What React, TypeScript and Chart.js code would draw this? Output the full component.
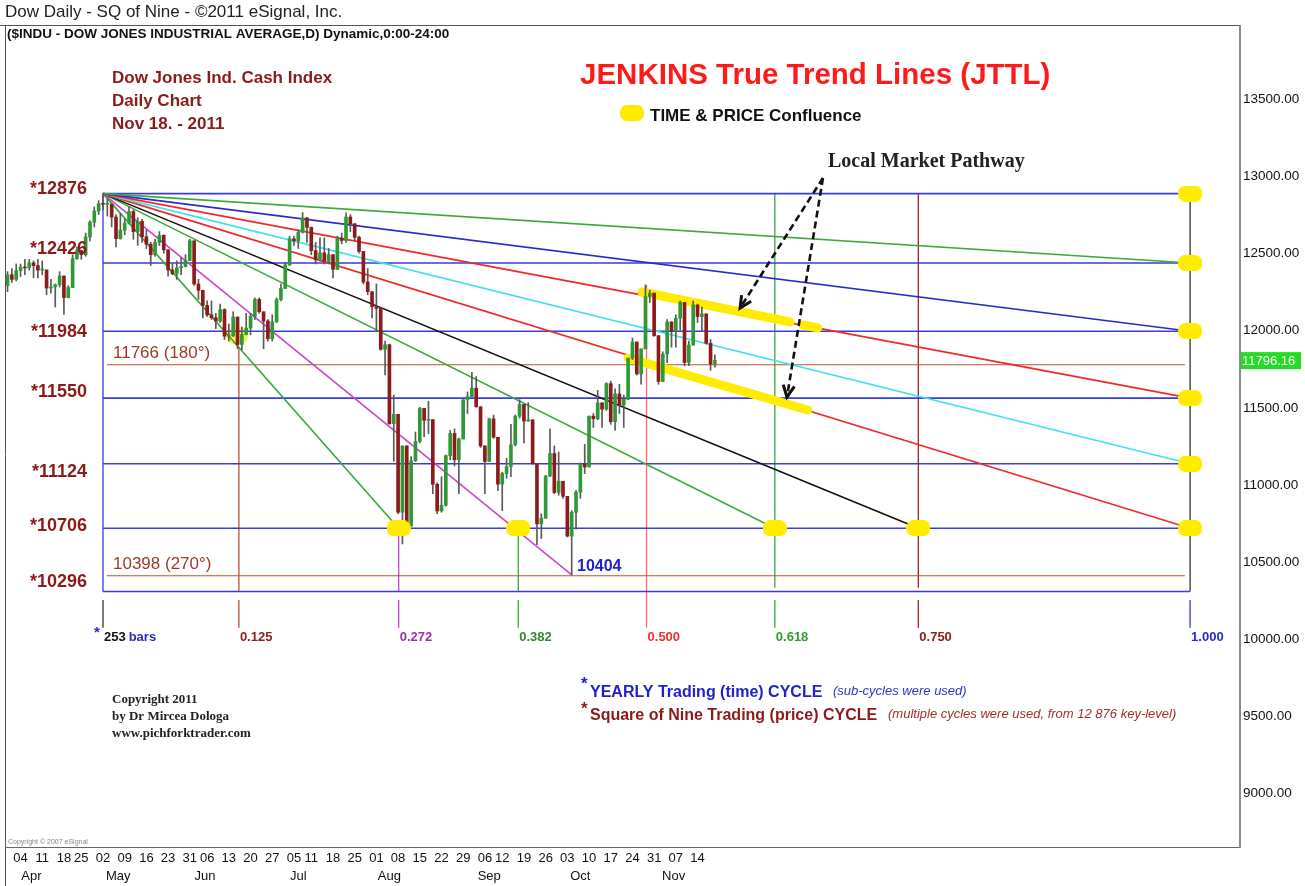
import React, { useEffect, useRef } from "react";
import { Chart, registerables } from "chart.js";

Chart.register(...registerables);

const FONT = "'Liberation Sans', Arial, Helvetica, sans-serif";
const SERIF = "'Liberation Serif', 'Times New Roman', serif";
Chart.defaults.font.family = FONT;

// ---------- price data: bar 0 = 02 May 2011, first bar = 30 Mar 2011 ----------
const FIRST_BAR = -22;
const opens = [
  12280, 12350, 12320, 12377, 12400, 12394, 12427, 12409, 12380, 12381, 12264, 12271, 12285, 12342, 12202, 12267, 12454, 12506, 12480, 12595, 12691, 12763,
  12811, 12807, 12808, 12724, 12584, 12639, 12685, 12760, 12630, 12696, 12596, 12548, 12480, 12560, 12605, 12512, 12381, 12356, 12395, 12403, 12442,
  12570, 12290, 12249, 12151, 12090, 12071, 12049, 12124, 11952, 11953, 12076, 11897, 11962, 12004, 12080, 12190, 12110, 12050, 11935, 12044, 12189, 12261,
  12414, 12583, 12570, 12626, 12719, 12657, 12506, 12447, 12492, 12437, 12480, 12385, 12587, 12572, 12724, 12681, 12593, 12501, 12303, 12240,
  12143, 12132, 11867, 11896, 11384, 11445, 10810, 11240, 10720, 11143, 11269, 11483, 11406, 11410, 10991, 10818, 10855, 11177, 11321, 11150, 11285, 11539, 11560,
  11614, 11494, 11240, 11139, 11415, 11296, 10992, 11061, 11106, 11247, 11433, 11509, 11401, 11409, 11125, 10734, 10771, 11044, 11191, 10938, 11011,
  10913, 10655, 10809, 10940, 11123, 11103, 11433, 11416, 11519, 11478, 11644, 11397, 11577, 11505, 11542, 11809, 11914, 11707, 11869, 12209, 12231,
  11955, 11658, 11836, 12044, 11983, 12068, 12170, 11781, 11894, 12154, 12079, 12096, 11906, 11771,
];
const highs = [
  12370, 12390, 12420, 12419, 12450, 12450, 12440, 12450, 12440, 12381, 12320, 12290, 12370, 12342, 12280, 12480, 12530, 12510, 12620, 12700, 12790, 12830,
  12876, 12840, 12810, 12740, 12750, 12710, 12790, 12770, 12720, 12710, 12640, 12560, 12580, 12630, 12610, 12512, 12420, 12440, 12460, 12480, 12580,
  12570, 12320, 12250, 12180, 12180, 12100, 12160, 12130, 12030, 12110, 12076, 12010, 12100, 12100, 12200, 12200, 12110, 12060, 12090, 12200, 12290, 12430,
  12600, 12600, 12640, 12753, 12720, 12660, 12560, 12590, 12590, 12520, 12480, 12600, 12620, 12751, 12740, 12681, 12600, 12501, 12390, 12240,
  12290, 12140, 11920, 11900, 11570, 11445, 11240, 11240, 11170, 11330, 11490, 11483, 11530, 11410, 11000, 11040, 11180, 11340, 11350, 11290, 11540, 11590, 11717,
  11690, 11494, 11240, 11420, 11440, 11296, 11070, 11160, 11380, 11440, 11540, 11509, 11520, 11410, 11125, 10800, 11050, 11350, 11240, 11200, 11011,
  10913, 10820, 10950, 11130, 11250, 11433, 11450, 11600, 11519, 11650, 11660, 11610, 11640, 11570, 11810, 11940, 11914, 11870, 12284, 12250,
  12231, 11955, 11850, 12060, 12044, 12090, 12180, 12170, 11920, 12180, 12160, 12140, 12096, 11930, 11830,
];
const lows = [
  12240, 12300, 12310, 12338, 12350, 12380, 12330, 12330, 12350, 12220, 12230, 12140, 12270, 12093, 12200, 12267, 12450, 12450, 12470, 12570, 12660, 12740,
  12770, 12730, 12660, 12530, 12580, 12610, 12680, 12580, 12540, 12560, 12520, 12410, 12470, 12540, 12490, 12340, 12350, 12320, 12350, 12400, 12440,
  12280, 12190, 12070, 12080, 12060, 12000, 12040, 11930, 11920, 11950, 11870, 11862, 11960, 11960, 12060, 12100, 11870, 11920, 11920, 12040, 12180, 12260,
  12410, 12540, 12520, 12620, 12560, 12480, 12420, 12440, 12420, 12420, 12330, 12385, 12550, 12560, 12630, 12570, 12490, 12290, 12220, 12070,
  11980, 11860, 11700, 11380, 11140, 10800, 10604, 10710, 10720, 11140, 11260, 11300, 11320, 10930, 10800, 10810, 10850, 11150, 11110, 10930, 11285, 11450, 11560,
  11490, 11230, 10930, 11139, 11290, 10950, 10820, 11030, 11040, 11240, 11420, 11260, 11400, 11120, 10600, 10640, 10770, 11040, 10930, 10920, 10900,
  10650, 10404, 10700, 10900, 11060, 11103, 11360, 11410, 11360, 11470, 11380, 11340, 11450, 11360, 11540, 11800, 11700, 11640, 11869, 12170,
  11950, 11640, 11658, 11780, 11880, 11880, 11990, 11760, 11760, 11894, 12040, 11980, 11900, 11730, 11750,
];
const closes = [
  12350, 12320, 12377, 12400, 12394, 12427, 12409, 12380, 12381, 12264, 12271, 12285, 12342, 12202, 12267, 12454, 12506, 12480, 12595, 12691, 12763, 12811,
  12807, 12808, 12724, 12584, 12639, 12685, 12760, 12630, 12696, 12596, 12548, 12480, 12560, 12605, 12512, 12381, 12356, 12395, 12403, 12442, 12570,
  12290, 12249, 12151, 12090, 12071, 12049, 12124, 11952, 11953, 12076, 11897, 11962, 12004, 12080, 12190, 12110, 12050, 11935, 12044, 12189, 12261, 12414,
  12583, 12570, 12626, 12719, 12657, 12506, 12447, 12492, 12437, 12480, 12385, 12587, 12572, 12724, 12681, 12593, 12501, 12303, 12240, 12143,
  12132, 11867, 11896, 11384, 11445, 10810, 11240, 10720, 11143, 11269, 11483, 11406, 11410, 10991, 10818, 10855, 11177, 11321, 11150, 11285, 11539, 11560, 11614,
  11494, 11240, 11139, 11415, 11296, 10992, 11061, 11106, 11247, 11433, 11509, 11401, 11409, 11125, 10734, 10771, 11044, 11191, 10938, 11011, 10913,
  10655, 10809, 10940, 11123, 11103, 11433, 11416, 11519, 11478, 11644, 11397, 11577, 11505, 11542, 11809, 11914, 11707, 11869, 12209, 12231,
  11955, 11658, 11836, 12044, 11983, 12068, 12170, 11781, 11894, 12154, 12079, 12096, 11906, 11771, 11796,
];
const LAST_CLOSE = 11796.16;

// ---------- date axis ----------
const weekBars = [-19, -14, -9, -5, 0, 5, 10, 15, 20, 24, 29, 34, 39, 44, 48, 53, 58, 63, 68, 73, 78, 83, 88, 92, 97, 102, 107, 112, 117, 122, 127, 132, 137];
const weekLabels = ["04", "11", "18", "25", "02", "09", "16", "23", "31", "06", "13", "20", "27", "05", "11", "18", "25", "01", "08", "15", "22", "29", "06", "12", "19", "26", "03", "10", "17", "24", "31", "07", "14"];
const monthBars = [-16.5, 3.5, 23.5, 45, 66, 89, 110, 131.5];
const monthLabels = ["Apr", "May", "Jun", "Jul", "Aug", "Sep", "Oct", "Nov"];

// ---------- price axis ----------
const priceTicks = [9000, 9500, 10000, 10500, 11000, 11500, 12000, 12500, 13000, 13500];
const Y_MIN = 8639;
const Y_MAX = 13963;
const X_MIN = -22.35;
const X_MAX = 262;

// ---------- Square of Nine levels ----------
const sq9Levels = [12876, 12426, 11984, 11550, 11124, 10706, 10296];
const sq9Labels = ["*12876", "*12426", "*11984", "*11550", "*11124", "*10706", "*10296"];
const angleLevels = [11766, 10398];
const angleLabels = ["11766 (180°)", "10398 (270°)"];

// ---------- yearly time cycle ----------
const CYCLE_BARS = 250.5;
const cycleFractions = [0, 0.125, 0.272, 0.382, 0.5, 0.618, 0.75, 1];
const cycleLabels = ["253", "0.125", "0.272", "0.382", "0.500", "0.618", "0.750", "1.000"];
const cycleTops = [12876, 11880, 10706, 10706, 12284, 12876, 12876, 12876];
const cycleBottoms = [10296, 10296, 10296, 10296, 10060, 10320, 10320, 10296];
const cycleColors = ["#3a3adf", "#b8552e", "#cc44cc", "#3aaa3a", "#ff6a6a", "#3aaa3a", "#a02020", "#333333"];
const cycleTickColors = ["#333333", "#b8552e", "#cc44cc", "#3aaa3a", "", "#3aaa3a", "#a02020", "#3a3adf"];
const cycleLabelColors = ["#111111", "#8b2020", "#9932a8", "#2e8b2e", "#ee3030", "#2e9e2e", "#8b2020", "#2a2acc"];

// ---------- JTTL fan from the 12876 pivot ----------
const PIVOT_BAR = 0;
const PIVOT_PRICE = 12876;
const fanEndBars = [250.5, 250.5, 250.5, 250.5, 250.5, 187.9, 154.8, 108, 68.1];
const fanEndPrices = [12426, 11984, 11550, 11124, 10706, 10706, 10706, 10404, 10706];
const fanColors = ["#3aaa3a", "#2a2acc", "#ee2a2a", "#44e0ee", "#ee2a2a", "#111111", "#3aaa3a", "#cc44cc", "#3aaa3a"];

// ---------- time & price confluences ----------
const confluenceBars = [250.5, 250.5, 250.5, 250.5, 250.5, 250.5, 187.9, 154.8, 68.1, 95.7];
const confluencePrices = [12876, 12426, 11984, 11550, 11124, 10706, 10706, 10706, 10706, 10706];
const juneLowBar = [30.9];
const juneLowPrice = [11959];

// ---------- local market pathway ----------
const pathUpperBars = [124.2, 158.3];
const pathUpperPrices = [12238, 12044];
const pathUpper2Bars = [161.3, 164.7];
const pathUpper2Prices = [12024, 12005];
const pathLowerBars = [121.0, 162.4];
const pathLowerPrices = [11810, 11473];
const arrowFromBar = 165.9;
const arrowFromPrice = 12977;
const arrowToBars = [146.8, 157.6];
const arrowToPrices = [12134, 11557];

function blob(w: number, h: number, color: string) {
  const c = document.createElement("canvas");
  c.width = w;
  c.height = h;
  const g = c.getContext("2d") as CanvasRenderingContext2D;
  g.fillStyle = color;
  g.beginPath();
  (g as any).roundRect(0, 0, w, h, Math.min(h / 2, 7));
  g.fill();
  return c;
}

export default function App() {
  const ref = useRef<HTMLCanvasElement>(null);

  useEffect(() => {
    document.body.style.margin = "0";
    const canvas = ref.current as HTMLCanvasElement;
    const yellowBlob = blob(24, 16, "#ffec00");
    const softBlob = blob(22, 17, "rgba(255,236,0,0.65)");

    const ld = (pts: any[], color: string, width: number, order: number, extra: any = {}) => ({
      type: "line",
      data: pts,
      borderColor: color,
      borderWidth: width,
      pointRadius: 0,
      pointHoverRadius: 0,
      fill: false,
      tension: 0,
      order,
      xAxisID: "x",
      yAxisID: "y",
      ...extra,
    });

    const datasets: any[] = [];
    datasets.push(
      ld(juneLowBar.map((b, i) => ({ x: b, y: juneLowPrice[i] })), "rgba(0,0,0,0)", 0, 100, {
        showLine: false,
        pointStyle: softBlob,
        pointRadius: 10,
      })
    );
    sq9Levels.forEach((v) => datasets.push(ld([{ x: PIVOT_BAR, y: v }, { x: CYCLE_BARS, y: v }], "#3a3adf", 1.6, 90)));
    angleLevels.forEach((v) => datasets.push(ld([{ x: 0.9, y: v }, { x: 249.3, y: v }], "#b8552e", 1.1, 90)));
    cycleFractions.forEach((f, i) => {
      const b = f * CYCLE_BARS;
      datasets.push(ld([{ x: b, y: cycleTops[i] }, { x: b, y: cycleBottoms[i] }], cycleColors[i], 1.3, 90));
      if (cycleTickColors[i]) datasets.push(ld([{ x: b, y: 10240 }, { x: b, y: 10060 }], cycleTickColors[i], 1.3, 90));
    });
    fanEndBars.forEach((b, i) =>
      datasets.push(ld([{ x: PIVOT_BAR, y: PIVOT_PRICE }, { x: b, y: fanEndPrices[i] }], fanColors[i], 1.6, 85))
    );
    const bandOpts = { borderCapStyle: "round" };
    datasets.push(ld(pathUpperBars.map((b, i) => ({ x: b, y: pathUpperPrices[i] })), "#ffec00", 9, 82, bandOpts));
    datasets.push(ld(pathUpper2Bars.map((b, i) => ({ x: b, y: pathUpper2Prices[i] })), "#ffec00", 9, 82, bandOpts));
    datasets.push(ld(pathLowerBars.map((b, i) => ({ x: b, y: pathLowerPrices[i] })), "#ffec00", 9, 82, bandOpts));
    datasets.push({
      type: "bar",
      data: lows.map((l, i) => ({ x: FIRST_BAR + i, y: [l, highs[i]] })),
      backgroundColor: "#5a5a5a",
      barThickness: 1,
      grouped: false,
      borderWidth: 0,
      order: 80,
      xAxisID: "x",
      yAxisID: "y",
    });
    datasets.push({
      type: "bar",
      data: opens.map((o, i) => ({ x: FIRST_BAR + i, y: [o, closes[i]] })),
      backgroundColor: opens.map((o, i) => (closes[i] >= o ? "#2f9a35" : "#8e1b1b")),
      barThickness: 3,
      minBarLength: 1,
      grouped: false,
      borderWidth: 0,
      order: 79,
      xAxisID: "x",
      yAxisID: "y",
    });
    datasets.push(
      ld(confluenceBars.map((b, i) => ({ x: b, y: confluencePrices[i] })), "rgba(0,0,0,0)", 0, 10, {
        showLine: false,
        pointStyle: yellowBlob,
        pointRadius: 10,
      })
    );
    arrowToBars.forEach((b, i) =>
      datasets.push(
        ld([{ x: arrowFromBar, y: arrowFromPrice }, { x: b, y: arrowToPrices[i] }], "#111111", 2.6, 5, {
          borderDash: [7, 4],
        })
      )
    );

    const ann = {
      id: "ann",
      beforeDraw(chart: any) {
        const c = chart.ctx;
        c.save();
        c.fillStyle = "#ffffff";
        c.fillRect(0, 0, chart.width, chart.height);
        c.restore();
      },
      afterDraw(chart: any) {
        const c: CanvasRenderingContext2D = chart.ctx;
        const xs = chart.scales.x;
        const ys = chart.scales.y;
        const X = (v: number) => xs.getPixelForValue(v);
        const Y = (v: number) => ys.getPixelForValue(v);
        const t = (s: string, x: number, y: number, font: string, color: string, align: CanvasTextAlign = "left") => {
          c.font = font;
          c.fillStyle = color;
          c.textAlign = align;
          c.textBaseline = "middle";
          c.fillText(s, x, y);
          return c.measureText(s).width;
        };
        const line = (x1: number, y1: number, x2: number, y2: number, color: string, w: number) => {
          c.strokeStyle = color;
          c.lineWidth = w;
          c.setLineDash([]);
          c.beginPath();
          c.moveTo(x1, y1);
          c.lineTo(x2, y2);
          c.stroke();
        };
        c.save();
        arrowToBars.forEach((b, i) => {
          const x1 = X(arrowFromBar), y1 = Y(arrowFromPrice), x2 = X(b), y2 = Y(arrowToPrices[i]);
          const a = Math.atan2(y2 - y1, x2 - x1);
          const L = 13, s = 0.45;
          c.strokeStyle = "#111";
          c.lineWidth = 3;
          c.setLineDash([]);
          c.beginPath();
          c.moveTo(x2 - L * Math.cos(a - s), y2 - L * Math.sin(a - s));
          c.lineTo(x2, y2);
          c.lineTo(x2 - L * Math.cos(a + s), y2 - L * Math.sin(a + s));
          c.stroke();
        });

        const ca = chart.chartArea;
        line(0, 25.5, ca.right, 25.5, "#555", 1);
        line(5.5, 25, 5.5, 886, "#555", 1);
        line(5, ca.bottom + 0.5, ca.right, ca.bottom + 0.5, "#666", 1.2);
        line(ca.right, 25, ca.right, ca.bottom + 1, "#8a8a8a", 2);

        t("Dow Daily - SQ of Nine - ©2011 eSignal, Inc.", 5, 12, `17px ${FONT}`, "#222");
        t("($INDU - DOW JONES INDUSTRIAL AVERAGE,D) Dynamic,0:00-24:00", 7, 34, `bold 13.5px ${FONT}`, "#111");
        t("Copyright © 2007 eSignal", 8, 842, `7px ${FONT}`, "#888");

        const dr = "#8b1a1a";
        t("Dow Jones Ind. Cash Index", 112, 78, `bold 17px ${FONT}`, dr);
        t("Daily Chart", 112, 101, `bold 17px ${FONT}`, dr);
        t("Nov 18. - 2011", 112, 124, `bold 17px ${FONT}`, dr);
        t("JENKINS True Trend Lines (JTTL)", 580, 76, `bold 29.5px ${FONT}`, "#ff1a1a");
        c.drawImage(yellowBlob, 620, 105);
        t("TIME & PRICE Confluence", 650, 116, `bold 17px ${FONT}`, "#111");
        t("Local Market Pathway", 828, 162, `bold 20px ${SERIF}`, "#222");

        const dy = [-5, -14, 1, -6, 8, -2, -9];
        sq9Levels.forEach((v, i) => t(sq9Labels[i], 87, Y(v) + dy[i], `bold 18px ${FONT}`, dr, "right"));
        angleLevels.forEach((v, i) => t(angleLabels[i], 113, Y(v) - 11, `17px ${FONT}`, "#9b3a28"));
        t("10404", 577, Y(10404) - 8, `bold 16px ${FONT}`, "#2222cc");

        cycleFractions.forEach((f, i) => {
          const x = X(f * CYCLE_BARS);
          const y = Y(10000);
          if (i === 0) {
            t("*", x - 9, y - 4, `bold 15px ${FONT}`, "#2a2acc");
            const w = t(cycleLabels[i], x + 1, y, `bold 13px ${FONT}`, "#111");
            t("bars", x + w + 4, y, `bold 13px ${FONT}`, "#2a2acc");
          } else {
            t(cycleLabels[i], x + 1, y, `bold 13px ${FONT}`, cycleLabelColors[i]);
          }
        });

        t("*", 581, 684, `bold 17px ${FONT}`, "#2222cc");
        t("YEARLY Trading (time) CYCLE", 590, 693, `bold 16px ${FONT}`, "#2222cc");
        t("(sub-cycles were used)", 833, 691, `italic 13px ${FONT}`, "#3333cc");
        t("*", 581, 709, `bold 17px ${FONT}`, dr);
        t("Square of Nine Trading (price) CYCLE", 590, 716, `bold 16px ${FONT}`, dr);
        t("(multiple cycles were used, from 12 876 key-level)", 888, 714, `italic 13px ${FONT}`, "#a0302a");

        t("Copyright 2011", 112, 700, `bold 13px ${SERIF}`, "#222");
        t("by Dr Mircea Dologa", 112, 717, `bold 13px ${SERIF}`, "#222");
        t("www.pichforktrader.com", 112, 734, `bold 13px ${SERIF}`, "#222");

        const yl = Y(LAST_CLOSE);
        c.fillStyle = "#22dd22";
        c.fillRect(ca.right + 1, yl - 8, 60, 17);
        t(LAST_CLOSE.toFixed(2), ca.right + 2, yl + 1, `13px ${FONT}`, "#ffffff");
        c.restore();
      },
    };

    const chart = new Chart(canvas, {
      type: "bar",
      data: { datasets },
      options: {
        animation: false,
        responsive: false,
        events: [],
        layout: { autoPadding: false, padding: { left: 6, top: 26, right: 0, bottom: 0 } },
        plugins: { legend: { display: false }, tooltip: { enabled: false } },
        scales: {
          x: {
            type: "linear",
            position: "bottom",
            weight: 0,
            min: X_MIN,
            max: X_MAX,
            offset: false,
            grid: { display: false, drawTicks: false, offset: false },
            border: { display: false },
            afterBuildTicks: (s: any) => {
              s.ticks = weekBars.map((v) => ({ value: v }));
            },
            ticks: {
              autoSkip: false,
              maxRotation: 0,
              minRotation: 0,
              padding: 4,
              color: "#111",
              font: { size: 13 },
              callback: (_v: any, i: number) => weekLabels[i],
            },
            afterFit: (s: any) => {
              s.height = 19;
              s.paddingLeft = 0;
              s.paddingRight = 0;
            },
          },
          x2: {
            type: "linear",
            position: "bottom",
            weight: 1,
            min: X_MIN,
            max: X_MAX,
            offset: false,
            grid: { display: false, drawTicks: false },
            border: { display: false },
            afterBuildTicks: (s: any) => {
              s.ticks = monthBars.map((v) => ({ value: v }));
            },
            ticks: {
              autoSkip: false,
              maxRotation: 0,
              minRotation: 0,
              padding: 3,
              color: "#111",
              font: { size: 13 },
              callback: (_v: any, i: number) => monthLabels[i],
            },
            afterFit: (s: any) => {
              s.height = 20;
              s.paddingLeft = 0;
              s.paddingRight = 0;
            },
          },
          y: {
            type: "linear",
            position: "right",
            min: Y_MIN,
            max: Y_MAX,
            grid: { display: false, drawTicks: false },
            border: { display: false },
            afterBuildTicks: (s: any) => {
              s.ticks = priceTicks.map((v) => ({ value: v }));
            },
            ticks: {
              padding: 3,
              labelOffset: 2,
              color: "#111",
              font: { size: 13.5 },
              callback: (v: any) => Number(v).toFixed(2),
            },
            afterFit: (s: any) => {
              s.width = 65;
              s.paddingTop = 0;
              s.paddingBottom = 0;
            },
          },
        },
      } as any,
      plugins: [ann],
    } as any);

    return () => chart.destroy();
  }, []);

  return (
    <div style={{ position: "absolute", left: 0, top: 0, width: 1305, height: 886 }}>
      <canvas ref={ref} width={1305} height={886} />
    </div>
  );
}
